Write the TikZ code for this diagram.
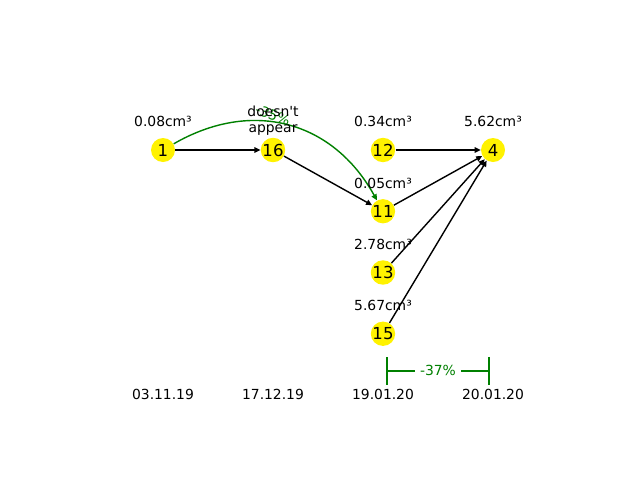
\documentclass[tikz,border=0pt]{standalone}
\usepackage{fontspec}
\setmainfont{DejaVu Sans}[Ligatures=TeXOff]
\usetikzlibrary{positioning,arrows.meta}
\definecolor{mplgreen}{HTML}{008000}

\begin{document}
\begin{tikzpicture}[
            on grid,
            node distance=1.225cm and 2.2cm,
            station/.style={circle, fill=yellow, minimum size=0.48cm, inner sep=0pt, font=\fontsize{9.4}{11}\selectfont},
            vol/.style={inner sep=0pt, align=center, font=\fontsize{7.9}{9.2}\selectfont},
            datelabel/.style={inner sep=0pt, font=\fontsize{7.9}{9.5}\selectfont},
            trendlabel/.style={inner sep=0pt, text=mplgreen, font=\fontsize{7.9}{9.5}\selectfont},
            arrow/.style={-{Triangle[length=1.2mm, width=1.1mm]}, line width=0.8pt, black},
            trend/.style={-{Triangle[length=1.2mm, width=1.1mm]}, line width=0.8pt, mplgreen},
            span/.style={{Bar[width=0.56cm]}-{Bar[width=0.56cm]}, line width=1.2pt, mplgreen}
        ]
            \useasboundingbox (0,0) rectangle (12.8,9.6);

            % Stations
            \node[station] (n1) at (3.26,6.6) {1};
            \node[station, right=of n1] (n16) {16};
            \node[station, right=of n16] (n12) {12};
            \node[station, right=of n12] (n4) {4};
            \node[station, below=of n12] (n11) {11};
            \node[station, below=of n11] (n13) {13};
            \node[station, below=of n13] (n15) {15};

            % Green trend edge and its label
            \draw[trend] (n1) to[out=30, in=119, looseness=1.1] (n11);
            \node[trendlabel, rotate=-20, above=0.7cm of n16] (p16) {-35\%};

            % Volumes
            \node[vol, above=0.58cm of n1] (v1) {0.08cm³};
            \node[vol, above=0.58cm of n16] (v16) {doesn't\\appear};
            \node[vol, above=0.58cm of n12] (v12) {0.34cm³};
            \node[vol, above=0.58cm of n4] (v4) {5.62cm³};
            \node[vol, above=0.56cm of n11] (v11) {0.05cm³};
            \node[vol, above=0.56cm of n13] (v13) {2.78cm³};
            \node[vol, above=0.56cm of n15] (v15) {5.67cm³};

            % Dates
            \node[datelabel, below=4.88cm of n1] (d1) {03.11.19};
            \node[datelabel, below=4.88cm of n16] (d16) {17.12.19};
            \node[datelabel, below=1.22cm of n15] (d12) {19.01.20};
            \node[datelabel, below=4.88cm of n4] (d4) {20.01.20};

            % Edges
            \draw[arrow] (n1) -- (n16);
            \draw[arrow] (n16) -- (n11);
            \draw[arrow] (n12) -- (n4);
            \draw[arrow] (n11) -- (n4);
            \draw[arrow] (n13) -- (n4);
            \draw[arrow] (n15) -- (n4);

            % Span between the last two dates
            \coordinate (b1) at ([xshift=0.06cm, yshift=-0.74cm]n15.center);
            \coordinate (b2) at ([xshift=-0.06cm]n4 |- b1);
            \draw[span] (b1) -- (b2) node[midway, fill=white, inner sep=0.1cm, text=mplgreen, font=\fontsize{7.9}{9.5}\selectfont] (s1) {-37\%};

        \end{tikzpicture}
\end{document}
